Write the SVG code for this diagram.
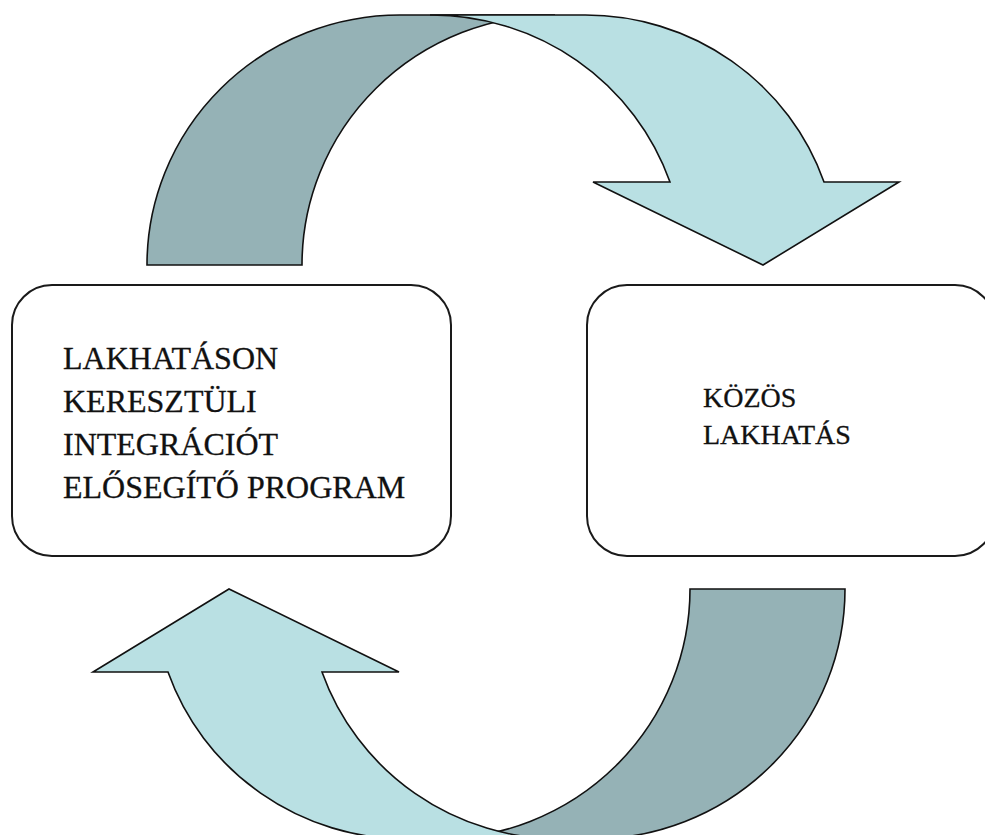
<svg xmlns="http://www.w3.org/2000/svg" width="985" height="835" viewBox="0 0 985 835">
<style>
.box{fill:#ffffff;stroke:#1a1a1a;stroke-width:2}
.back{fill:#95b2b6;stroke:#111;stroke-width:1.6;stroke-linejoin:miter}
.front{fill:#b9e0e3;stroke:#111;stroke-width:1.6;stroke-linejoin:miter}
.lbl{font-family:"Liberation Serif","DejaVu Serif",serif;fill:#111;stroke:#111;stroke-width:0.3}
</style>
<rect width="985" height="835" fill="#ffffff"/>
<g id="connectors">
  <g id="arrow-top">
    <path class="back" d="M147,265 A253,250 0 0 1 400,15 L555,15 A253,250 0 0 0 302,265 Z"/>
    <path class="front" d="M430,15 L585,15 A253,250 0 0 1 824,182 L899,182 L763,265 L593,182 L670,182 A253,250 0 0 0 430,15 Z"/>
  </g>
  <g id="arrow-bottom" transform="rotate(180 496 427)">
    <path class="back" d="M147,265 A253,250 0 0 1 400,15 L555,15 A253,250 0 0 0 302,265 Z"/>
    <path class="front" d="M430,15 L585,15 A253,250 0 0 1 824,182 L899,182 L763,265 L593,182 L670,182 A253,250 0 0 0 430,15 Z"/>
  </g>
</g>
<g id="node-program">
  <rect class="box" x="12" y="285" width="439" height="271" rx="40" ry="40"/>
  <text class="lbl" font-size="32">
    <tspan x="63" y="369">LAKHATÁSON</tspan>
    <tspan x="63" y="412">KERESZTÜLI</tspan>
    <tspan x="63" y="455">INTEGRÁCIÓT</tspan>
    <tspan x="63" y="498">ELŐSEGÍTŐ PROGRAM</tspan>
  </text>
</g>
<g id="node-kozos">
  <rect class="box" x="587" y="285" width="408" height="271" rx="40" ry="40"/>
  <text class="lbl" font-size="28">
    <tspan x="703" y="407">KÖZÖS</tspan>
    <tspan x="703" y="444">LAKHATÁS</tspan>
  </text>
</g>
</svg>
